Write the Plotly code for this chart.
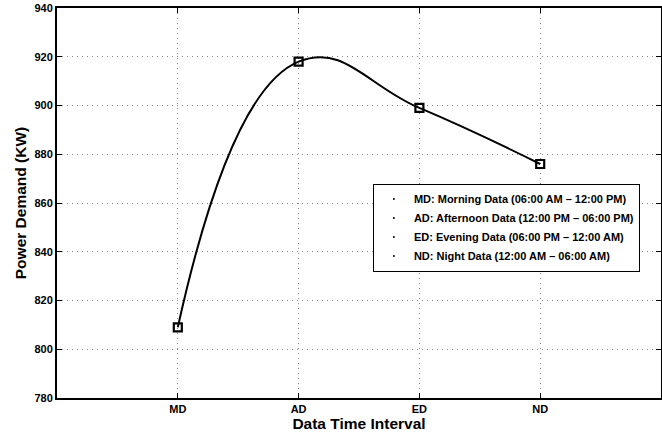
import plotly.graph_objects as go

categories = ["MD", "AD", "ED", "ND"]
demand = [809, 918, 899, 876]
legend_labels = [
    "MD: Morning Data (06:00 AM – 12:00 PM)",
    "AD: Afternoon Data (12:00 PM – 06:00 PM)",
    "ED: Evening Data (06:00 PM – 12:00 AM)",
    "ND: Night Data (12:00 AM – 06:00 AM)",
]
y_ticks = [780, 800, 820, 840, 860, 880, 900, 920, 940]

FONT = "Liberation Sans"

fig = go.Figure()
fig.add_trace(go.Scatter(
    x=categories, y=demand, mode="lines+markers",
    line=dict(color="black", width=2, shape="spline", smoothing=1.3),
    marker=dict(symbol="square-open", size=8, color="black", line=dict(width=2.2)),
    showlegend=False,
))
for lab in legend_labels:
    fig.add_trace(go.Scatter(
        x=[None], y=[None], mode="markers",
        marker=dict(symbol="circle", size=2, color="black"),
        name=lab, showlegend=True,
    ))

axis_common = dict(
    showline=True, linecolor="black", linewidth=2, mirror="ticks",
    ticks="inside", ticklen=5, tickcolor="black",
    showgrid=True, gridcolor="#888888", griddash="1px,4px", gridwidth=1,
    zeroline=False, automargin=False,
    tickfont=dict(family=FONT, size=11, color="black", weight="bold"),
)

fig.update_layout(
    width=662, height=437,
    margin=dict(l=57, r=1, t=8, b=39, autoexpand=False),
    paper_bgcolor="white", plot_bgcolor="white",
    font=dict(family=FONT, color="black"),
    xaxis=dict(
        axis_common, type="category", categoryorder="array", categoryarray=categories,
        range=[-1, 4],
        title=dict(text="<b>Data Time Interval</b>", font=dict(family=FONT, size=15.5), standoff=0),
    ),
    yaxis=dict(
        axis_common, range=[780, 940], tickvals=y_ticks,
        title=dict(text="<b>Power Demand (KW)</b>", font=dict(family=FONT, size=15.5), standoff=4),
    ),
    legend=dict(
        x=0.523, y=0.437, xanchor="left", yanchor="middle",
        bgcolor="white", bordercolor="black", borderwidth=1,
        font=dict(family=FONT, size=11, color="black", weight="bold"),
        itemwidth=30, tracegroupgap=0,
    ),
)

fig.write_html("out.html", config={"displayModeBar": False},
               post_script="document.body.style.margin='0';")
